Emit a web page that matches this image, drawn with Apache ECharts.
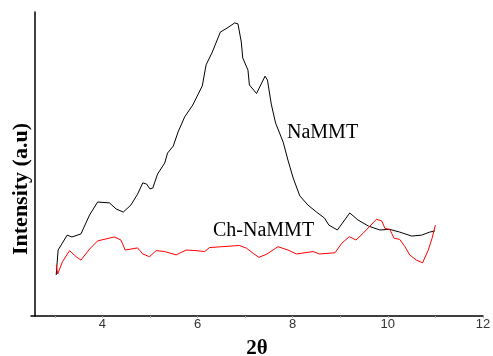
<!DOCTYPE html>
<html>
<head>
<meta charset="utf-8">
<script src="https://cdn.jsdelivr.net/npm/echarts@6/dist/echarts.min.js"></script>
<style>html,body{margin:0;padding:0;background:#fff}#c{width:493px;height:356px}</style>
</head>
<body>
<div id="c"></div>
<script>
// NaMMT (black) : 2θ values and intensities
const naX = [3.03,3.07,3.26,3.36,3.55,3.73,3.90,4.15,4.29,4.44,4.60,4.74,4.85,4.93,5.00,5.06,5.16,5.31,5.37,5.49,5.59,5.73,5.90,6.10,6.18,6.31,6.48,6.62,6.78,6.85,6.92,6.95,7.06,7.09,7.24,7.42,7.47,7.55,7.64,7.80,7.90,8.01,8.15,8.32,8.50,8.67,8.76,8.94,9.20,9.37,9.59,9.83,10.04,10.25,10.50,10.71,10.88,10.99];
const naY = [13.5,21.7,26.6,26.0,27.0,33.2,37.5,37.2,35.2,34.2,36.5,40.1,43.8,43.4,41.8,42.1,46.7,50.3,53.6,55.9,60.5,65.5,69.4,75.7,82.6,86.8,93.4,94.7,96.4,96.1,90.1,84.9,80.9,76.0,73.2,78.9,77.6,69.7,63.5,57.2,51.3,45.4,39.5,36.5,34.2,32.2,29.9,28.3,33.9,31.6,29.6,28.3,28.5,27.6,26.3,26.6,27.6,28.0];
// Ch-NaMMT (red)
const chX = [3.03,3.06,3.16,3.31,3.45,3.55,3.73,3.90,4.25,4.39,4.48,4.74,4.85,4.99,5.13,5.31,5.55,5.76,5.97,6.15,6.25,6.51,6.88,7.03,7.17,7.29,7.45,7.69,7.90,8.08,8.43,8.56,8.89,9.03,9.19,9.33,9.48,9.76,9.87,9.94,10.04,10.13,10.25,10.36,10.46,10.60,10.73,10.85,10.93,11.00];
const chY = [16.8,13.8,17.8,21.5,19.5,18.4,22.0,24.7,26.0,25.0,21.7,22.4,20.4,19.5,21.5,21.2,20.1,21.7,21.5,21.2,22.5,22.8,23.2,22.3,20.6,19.3,20.3,22.8,21.7,20.4,21.2,20.4,20.8,23.9,26.1,25.0,27.2,31.8,31.3,28.8,28.5,25.6,25.2,22.8,20.1,18.4,17.5,21.7,25.6,29.9];
const xTicks = [3,4,5,6,7,8,9,10,11,12];
const xTickLabels = [4,6,8,10,12];
const seriesNames = ['NaMMT','Ch-NaMMT'];
const xTitle = '2θ';
const yTitle = 'Intensity (a.u)';

const zip = (a,b) => a.map((v,i)=>[v,b[i]]);
const chart = echarts.init(document.getElementById('c'), null, {renderer:'canvas'});
chart.setOption({
  animation:false,
  backgroundColor:'#fff',
  grid:{left:31, right:10, top:12, bottom:40, containLabel:false, outerBoundsMode:'none'},
  xAxis:{
    type:'value', min:2.5, max:12,
    name:xTitle, nameLocation:'middle', nameGap:22,
    nameTextStyle:{fontFamily:'Liberation Serif', fontWeight:'bold', fontSize:21, color:'#000'},
    axisLine:{show:true, lineStyle:{color:'#000', width:1.5}},
    axisTick:{show:true, customValues:xTicks, length:2, lineStyle:{color:'#aaa'}},
    axisLabel:{customValues:xTickLabels, fontFamily:'Liberation Sans', fontSize:13, color:'#333', margin:2},
    splitLine:{show:false}
  },
  yAxis:{
    type:'value', min:0, max:100, offset:-4,
    axisLine:{show:true, onZero:false, lineStyle:{color:'#000', width:1.5}},
    axisTick:{show:false}, axisLabel:{show:false}, splitLine:{show:false}
  },
  graphic:[
    {type:'text', x:21, y:189, rotation:Math.PI/2,
     style:{text:yTitle, font:'bold 22px "Liberation Serif"', fill:'#000', align:'center', verticalAlign:'middle', textAlign:'center', textVerticalAlign:'middle'}},
    {type:'text', x:287, y:133,
     style:{text:seriesNames[0], font:'20px "Liberation Serif"', fill:'#000', align:'left', verticalAlign:'middle', textAlign:'left', textVerticalAlign:'middle'}},
    {type:'text', x:213, y:231,
     style:{text:seriesNames[1], font:'20px "Liberation Serif"', fill:'#000', align:'left', verticalAlign:'middle', textAlign:'left', textVerticalAlign:'middle'}}
  ],
  series:[
    {name:seriesNames[0], type:'line', data:zip(naX,naY), showSymbol:false, symbol:'none', lineStyle:{color:'#000', width:1}},
    {name:seriesNames[1], type:'line', data:zip(chX,chY), showSymbol:false, symbol:'none', lineStyle:{color:'#ff0000', width:1}}
  ]
});
</script>
</body>
</html>
